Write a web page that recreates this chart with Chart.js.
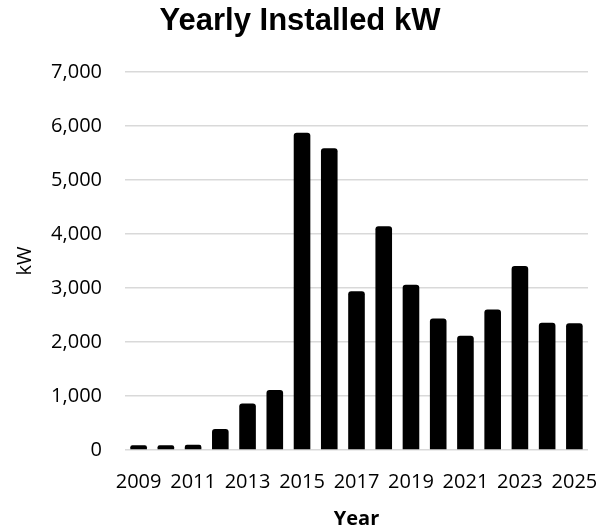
<!DOCTYPE html>
<html>
<head>
<meta charset="utf-8">
<script src="https://cdn.jsdelivr.net/npm/chart.js@4"></script>
<style>
  body { margin: 0; background: #fff; }
  #wrap { width: 600px; height: 531px; }
</style>
</head>
<body>
<div id="wrap"><canvas id="installChart" width="600" height="531"></canvas></div>
<script>
// Years on the x axis
const years = ['2009', '2010', '2011', '2012', '2013', '2014', '2015', '2016', '2017',
               '2018', '2019', '2020', '2021', '2022', '2023', '2024', '2025'];
// Installed kW per year
const installedKw = [90, 90, 95, 390, 860, 1110, 5880, 5590, 2940,
                     4145, 3060, 2435, 2115, 2605, 3410, 2360, 2350];
// y axis range
const yMax = 7000;
const yStep = 1000;

const textFont = "'Open Sans', 'Liberation Sans', sans-serif";

let ctx = document.getElementById('installChart').getContext('2d');
new Chart(ctx, {
    type: 'bar',
    data: {
        labels: years,
        datasets: [{
            label: 'kW',
            data: installedKw,
            backgroundColor: '#000000',
            borderRadius: 3,
            categoryPercentage: 1.0,
            barPercentage: 0.61
        }]
    },
    options: {
        responsive: false,
        animation: false,
        layout: { padding: { left: 0, right: 0, top: 0, bottom: 0 } },
        plugins: {
            legend: { display: false },
            tooltip: { enabled: false },
            title: {
                display: true,
                text: 'Yearly Installed kW',
                color: '#000000',
                font: { family: "'Liberation Sans', Arial, sans-serif", size: 31, weight: 'bold' },
                padding: { top: 3, bottom: 32 }
            }
        },
        scales: {
            x: {
                grid: { display: false },
                border: { display: false },
                ticks: {
                    color: '#000000',
                    font: { family: textFont, size: 20 },
                    maxRotation: 0,
                    autoSkip: false,
                    padding: 12,
                    // only every other year gets a label
                    callback: function (value, index) {
                        return index % 2 === 0 ? years[index] : '';
                    }
                },
                title: {
                    display: true,
                    text: 'Year',
                    color: '#000000',
                    font: { family: textFont, size: 20, weight: 'bold' },
                    padding: { top: 8, bottom: 0 }
                },
                afterFit: function (scale) {
                    scale.height = 81;
                    scale.paddingRight = 12;  // let the last label reach the edge like the original
                }
            },
            y: {
                min: 0,
                max: yMax,
                grid: { color: '#d9d9d9', lineWidth: 1.5, drawTicks: false },
                border: { display: false },
                ticks: {
                    stepSize: yStep,
                    color: '#000000',
                    font: { family: textFont, size: 20 },
                    padding: 23,
                    callback: function (value) { return value.toLocaleString('en-US'); }
                },
                title: {
                    display: true,
                    text: 'kW',
                    color: '#000000',
                    font: { family: textFont, size: 20 },
                    padding: { top: 13, bottom: 0 }
                },
                afterFit: function (scale) { scale.width = 125; }
            }
        }
    }
});
</script>
</body>
</html>
